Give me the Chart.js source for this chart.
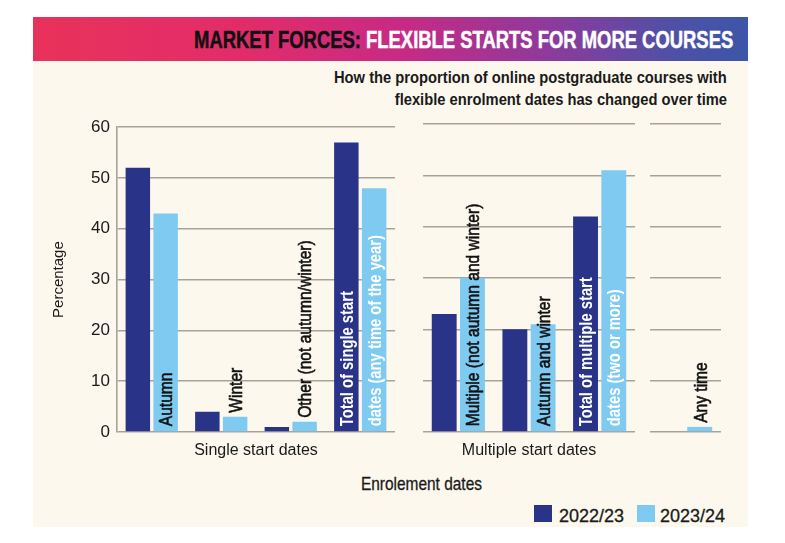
<!DOCTYPE html>
<html><head><meta charset="utf-8">
<script src="https://cdn.jsdelivr.net/npm/chart.js@4.4.1/dist/chart.umd.min.js"></script>
<style>
html,body{margin:0;padding:0;background:#fff;}
body{width:785px;height:543px;position:relative;overflow:hidden;font-family:"Liberation Sans",Arial,sans-serif;}
#panel{position:absolute;left:33px;top:17px;width:715px;height:510px;background:#fcf8ee;}
#header{position:absolute;left:33px;top:17px;width:715px;height:44px;background:linear-gradient(90deg,#e8325a 0%,#e22c6a 30%,#c72a85 52%,#8e3a9c 72%,#4d51a6 90%,#3c56a8 100%);}
.rline{position:absolute;right:0;white-space:nowrap;text-align:right;}
.rline span{display:inline-block;transform-origin:right center;}
.cline{position:absolute;white-space:nowrap;text-align:center;}
.cline span{display:inline-block;transform-origin:center center;}
#title{top:28px;right:52px;font-weight:bold;font-size:24px;line-height:24px;color:#fff;-webkit-text-stroke:0.5px #fff;}
#title b{color:#111;-webkit-text-stroke:0.5px #111;}
.sub{font-weight:bold;font-size:16px;line-height:16px;color:#1a1a1a;right:58px;}
#sub1{top:70px;}
#sub2{top:92px;}
#xtitle{left:0;width:842px;top:474px;font-size:19px;line-height:19px;color:#1a1a1a;-webkit-text-stroke:0.3px #1a1a1a;}
.chartbox{position:absolute;top:110px;height:352px;}
.lgbox{position:absolute;top:505px;width:18px;height:17px;}
.lgtxt{position:absolute;top:507px;font-size:18px;line-height:18px;color:#1a1a1a;-webkit-text-stroke:0.3px #1a1a1a;}
</style></head>
<body>
<div id="panel"></div>
<div id="header"></div>
<div class="rline" id="title"><span data-w="539"><b>MARKET FORCES:</b> FLEXIBLE STARTS FOR MORE COURSES</span></div>
<div class="rline sub" id="sub1"><span data-w="393" id="sub1s">How the proportion of online postgraduate courses with</span></div>
<div class="rline sub" id="sub2"><span data-ref="sub1s">flexible enrolment dates has changed over time</span></div>
<div class="cline" id="xtitle"><span data-w="121">Enrolement dates</span></div>
<div class="chartbox" style="left:40px;width:355px;"><canvas id="c1"></canvas></div>
<div class="chartbox" style="left:423px;width:212px;"><canvas id="c2"></canvas></div>
<div class="chartbox" style="left:650px;width:71px;"><canvas id="c3"></canvas></div>
<div class="lgbox" style="left:534px;background:#293388;"></div>
<div class="lgtxt" style="left:559px;">2022/23</div>
<div class="lgbox" style="left:637px;background:#7fcaf0;"></div>
<div class="lgtxt" style="left:660px;">2023/24</div>
<script>
// ---- data ----
const seriesNames = ['2022/23', '2023/24'];
const singleCategories = ['Autumn', 'Winter', 'Other (not autumn/winter)', ['Total of single start', 'dates (any time of the year)']];
const single2022 = [52, 4, 1, 57];
const single2023 = [43, 3, 2, 48];
const multipleCategories = ['Multiple (not autumn and winter)', 'Autumn and winter', ['Total of multiple start', 'dates (two or more)']];
const multiple2022 = [23, 20, 42];
const multiple2023 = [30, 21, 51];
const anyCategories = ['Any time'];
const any2022 = [0];
const any2023 = [1];
const groupTitles = ['Single start dates', 'Multiple start dates', ''];
const yTicks = [0, 10, 20, 30, 40, 50, 60];

const DARK = '#293388', LIGHT = '#7fcaf0', GRID = '#a6a39a', TXT = '#1a1a1a';

// ---- fit HTML text widths ----
const scales = {};
document.querySelectorAll('span[data-w]').forEach(s => {
  const k = parseFloat(s.dataset.w) / s.offsetWidth;
  s.style.transform = 'scaleX(' + k + ')';
  if (s.id) scales[s.id] = k;
});
document.querySelectorAll('span[data-ref]').forEach(s => {
  s.style.transform = 'scaleX(' + scales[s.dataset.ref] + ')';
});

function hasFont(name) {
  const c = document.createElement('canvas').getContext('2d');
  const t = 'Percentage Single start dates';
  c.font = '20px monospace'; const a = c.measureText(t).width;
  c.font = '20px "' + name + '", monospace'; const b = c.measureText(t).width;
  return Math.abs(a - b) > 0.5;
}
const NARROW = hasFont('Liberation Sans Narrow');
const titleFont = NARROW ? { family: '"Liberation Sans Narrow"', size: 19 } : { family: '"Liberation Sans"', size: 16 };
const yTitleFont = NARROW ? { family: '"Liberation Sans Narrow"', size: 18 } : { family: '"Liberation Sans"', size: 15 };

function drawV(ctx, text, x, y, weight, size, color, stroke) {
  ctx.save();
  ctx.translate(x + size * 0.36, y);
  ctx.rotate(-Math.PI / 2);
  ctx.scale(0.82, 1);
  ctx.font = weight + ' ' + size + 'px "Liberation Sans", Arial, sans-serif';
  ctx.fillStyle = color;
  ctx.textAlign = 'left';
  ctx.textBaseline = 'alphabetic';
  ctx.fillText(text, 0, 0);
  if (stroke) { ctx.strokeStyle = color; ctx.lineWidth = stroke; ctx.strokeText(text, 0, 0); }
  ctx.restore();
}

const barLabels = {
  id: 'barLabels',
  afterDatasetsDraw(chart) {
    const ctx = chart.ctx;
    const m0 = chart.getDatasetMeta(0), m1 = chart.getDatasetMeta(1);
    chart.data.labels.forEach((lab, i) => {
      const b0 = m0.data[i], b1 = m1.data[i];
      if (Array.isArray(lab)) {
        drawV(ctx, lab[0], b0.x, b0.base - 5, 'bold', 18, '#ffffff', 0);
        drawV(ctx, lab[1], b1.x, b1.base - 5, 'bold', 18, '#ffffff', 0);
      } else {
        const h = b1.base - b1.y;
        const y0 = h > 20 ? b1.base - 5 : b1.y - 4;
        drawV(ctx, lab, b1.x, y0, 'normal', 19, '#111111', 0.6);
      }
    });
  }
};

function makeChart(id, labels, d1, d2, showY, xTitle) {
  return new Chart(document.getElementById(id), {
    type: 'bar',
    data: {
      labels: labels,
      datasets: [
        { label: seriesNames[0], data: d1, backgroundColor: DARK, borderWidth: 0, categoryPercentage: 0.8, barPercentage: 0.88 },
        { label: seriesNames[1], data: d2, backgroundColor: LIGHT, borderWidth: 0, categoryPercentage: 0.8, barPercentage: 0.88 }
      ]
    },
    options: {
      responsive: true, maintainAspectRatio: false, animation: false,
      layout: { padding: { top: 14, right: 0, bottom: 0, left: 0 } },
      plugins: { legend: { display: false }, tooltip: { enabled: false } },
      scales: {
        x: {
          grid: { display: false }, border: { display: false },
          ticks: { display: false },
          title: { display: !!xTitle, text: xTitle, color: TXT, font: titleFont, padding: { top: 0, bottom: 2 } },
          afterFit: s => { s.height = 30; }
        },
        y: {
          min: 0, max: 60,
          afterBuildTicks: s => { s.ticks = yTicks.map(v => ({ value: v })); },
          ticks: { display: showY, color: TXT, padding: 7, font: { family: '"Liberation Sans"', size: 17 } },
          grid: { color: GRID, lineWidth: 1.6, drawTicks: false },
          border: { display: showY, color: GRID, width: 1.6 },
          title: { display: showY, text: 'Percentage', color: TXT, font: yTitleFont, padding: { top: 10, bottom: 0 } },
          afterFit: s => { s.width = showY ? 77 : 0; }
        }
      }
    },
    plugins: [barLabels]
  });
}

makeChart('c1', singleCategories, single2022, single2023, true, groupTitles[0]);
makeChart('c2', multipleCategories, multiple2022, multiple2023, false, groupTitles[1]);
makeChart('c3', anyCategories, any2022, any2023, false, groupTitles[2]);
</script>
</body></html>
